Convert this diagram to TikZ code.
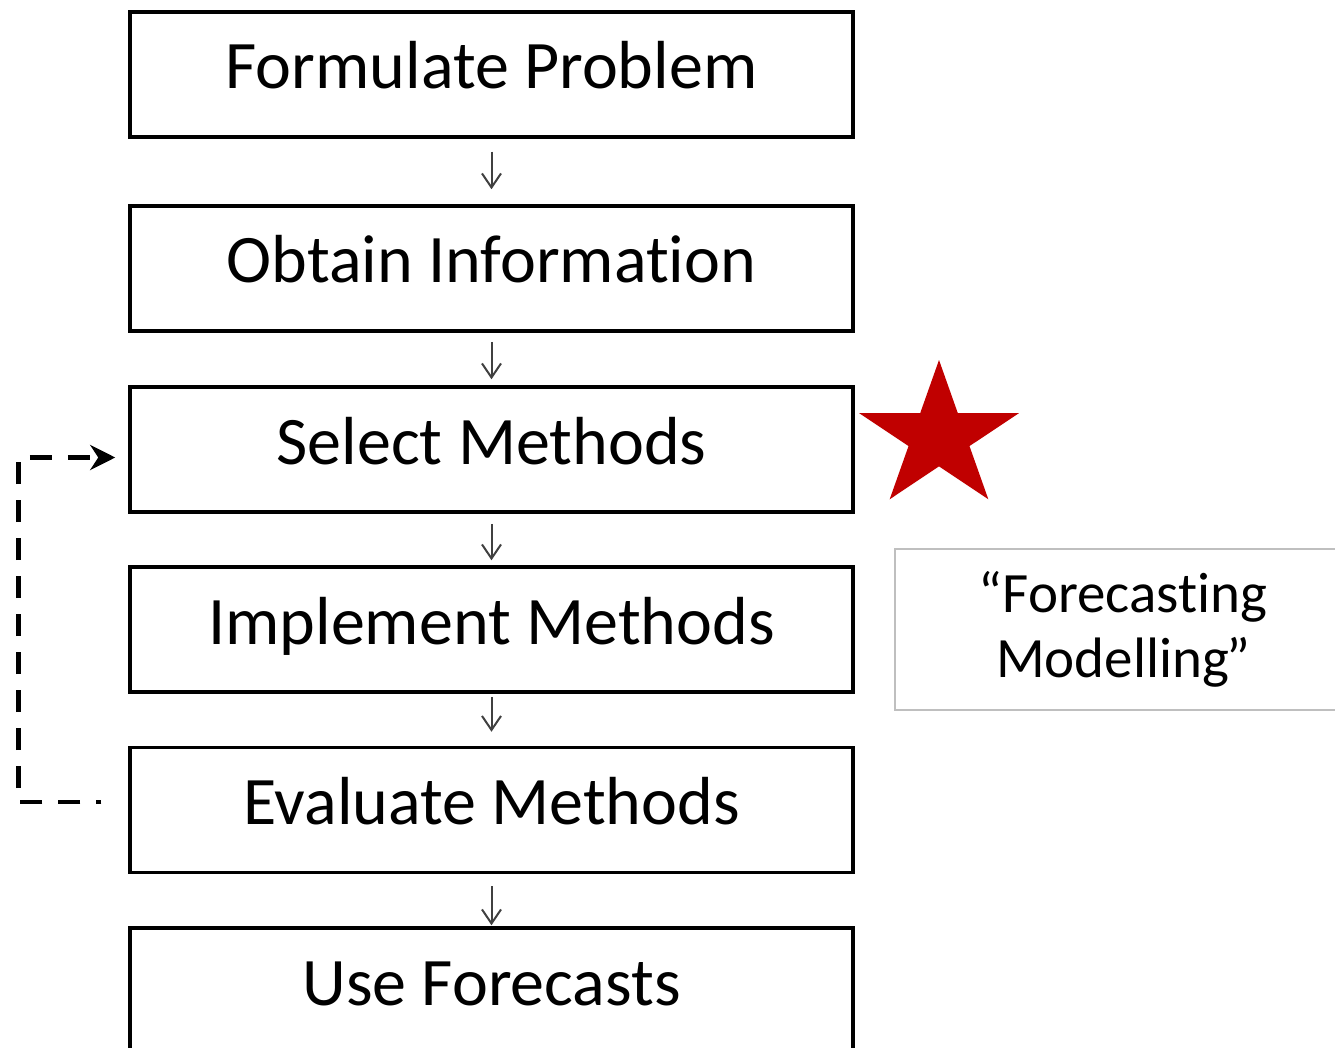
\documentclass[tikz,border=0pt]{standalone}
\usepackage{fontspec}
\setmainfont[Ligatures=NoCommon,RawFeature={-liga;-clig;-calt;-dlig}]{Carlito}
\usetikzlibrary{arrows.meta,calc}
\definecolor{starred}{HTML}{C00000}
\definecolor{boxgray}{HTML}{BFBFBF}
\begin{document}
\begin{tikzpicture}[x=1pt,y=-1pt,
  stepbox/.style={draw=black,line width=3.5pt,minimum width=723pt,minimum height=125pt,
    inner sep=0pt,font=\fontsize{68}{80}\selectfont,text height=50pt,text depth=21pt},
  flow/.style={draw=black!75,line width=2pt,-{Straight Barb[length=14pt,width=19pt]}},
  loopline/.style={line width=4.5pt,dash pattern=on 22pt off 16pt,dash phase=17pt,
    -{Stealth[length=25pt,width=25pt,inset=8pt]}}]
\useasboundingbox (0,0) rectangle (1335,1048);
\clip (0,0) rectangle (1335,1048);
\node[stepbox] (f) at (491.5,74.5) {Formulate Problem};
\node[stepbox] (o) at (491.5,268.5) {Obtain Informat\kern0pt ion};
\node[stepbox] (s) at (491.5,449.5) {Select Methods};
\node[stepbox] (i) at (491.5,629.5) {Implement Methods};
\node[stepbox] (e) at (491.5,810) {Evaluate Methods};
\node[stepbox] (u) at (491.5,990.5) {Use Forecasts};
\draw[flow,shorten <=13pt,shorten >=15pt] (f.south) -- (o.north);
\draw[flow,shorten <=9pt,shorten >=6pt] (o.south) -- (s.north);
\draw[flow,shorten <=10pt,shorten >=5pt] (s.south) -- (i.north);
\draw[flow,shorten <=3pt,shorten >=14pt] (i.south) -- (e.north);
\draw[flow,shorten <=12pt,shorten >=1pt] (e.south) -- (u.north);
\coordinate (lstart) at ($(e.west)+(-27,-8)$);
\coordinate (lcorner) at ($(s.west)+(-110,8)$);
\coordinate (lend) at ($(s.west)+(-13,8)$);
\draw[loopline] (lstart) -| (lcorner) -- (lend);
\begin{scope}[shift={(939,437)},xscale=1.09]
\fill[starred] (90:-77) -- (126:-29.4) -- (162:-77) -- (198:-29.4) -- (234:-77)
  -- (270:-29.4) -- (306:-77) -- (342:-29.4) -- (18:-77) -- (54:-29.4) -- cycle;
\end{scope}
\node[draw=boxgray,line width=1.5pt,minimum width=456pt,minimum height=161pt,inner sep=0pt,
  align=center,font=\fontsize{57}{65}\selectfont] (fm) at (1123,629.5)
  {“Forecast\kern0pt ing\\Modelling\kern-3pt”};
\end{tikzpicture}
\end{document}
